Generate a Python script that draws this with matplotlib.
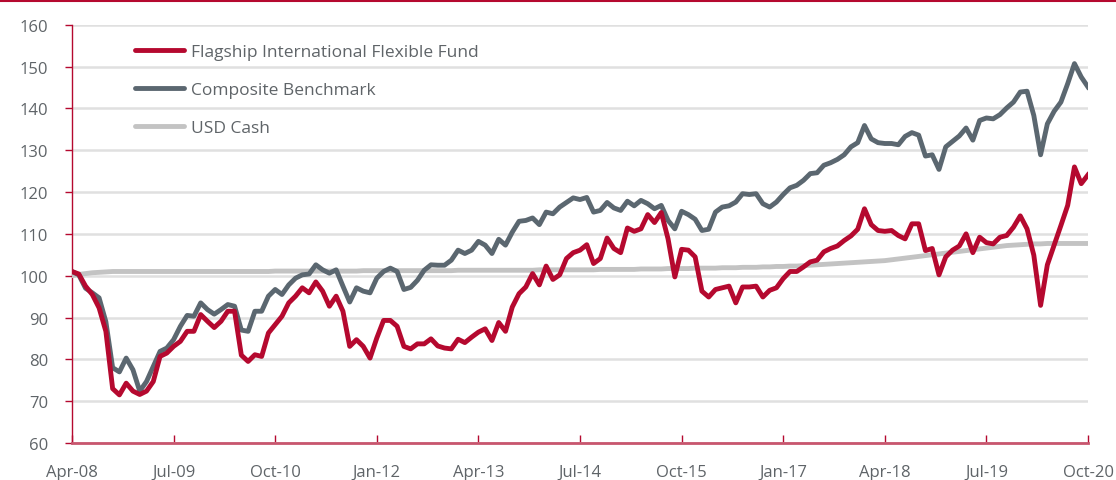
import matplotlib
matplotlib.use("Agg")
import matplotlib.pyplot as plt
from matplotlib.lines import Line2D

plt.rcParams['font.family'] = ['Open Sans', 'DejaVu Sans']

tick_labels = ["Apr-08", "Jul-09", "Oct-10", "Jan-12", "Apr-13", "Jul-14",
               "Oct-15", "Jan-17", "Apr-18", "Jul-19", "Oct-20"]

fund = [101.0, 100.4, 97.5, 95.5, 92.3, 86.7, 73.0, 71.5, 74.3, 72.4,
        71.6, 72.4, 74.7, 80.7, 81.5, 83.1, 84.3, 86.7, 86.7, 90.7,
        89.1, 87.6, 89.1, 91.5, 91.5, 81.0, 79.5, 81.1, 80.7, 86.3,
        88.3, 90.3, 93.5, 95.1, 97.1, 95.9, 98.5, 96.3, 92.7, 95.1,
        91.5, 83.1, 84.7, 83.1, 80.3, 85.1, 89.3, 89.3, 87.9, 83.1,
        82.5, 83.7, 83.7, 84.9, 83.2, 82.7, 82.5, 84.8, 84.0, 85.3,
        86.5, 87.3, 84.5, 88.8, 86.7, 92.5, 95.7, 97.3, 100.5, 97.8,
        102.3, 99.1, 100.2, 104.1, 105.5, 106.1, 107.4, 102.9, 104.1, 109.0,
        106.5, 105.5, 111.4, 110.6, 111.2, 114.6, 112.7, 115.1, 108.8, 99.7,
        106.3, 106.1, 104.5, 96.3, 94.9, 96.7, 97.1, 97.5, 93.5, 97.3,
        97.3, 97.5, 94.9, 96.5, 97.1, 99.3, 101.0, 101.0, 102.1, 103.3,
        103.7, 105.7, 106.5, 107.1, 108.4, 109.5, 111.1, 116.0, 112.2, 110.8,
        110.6, 110.8, 109.6, 108.8, 112.4, 112.4, 106.0, 106.5, 100.2, 104.5,
        106.1, 107.1, 110.0, 105.5, 109.2, 107.9, 107.6, 109.2, 109.6, 111.6,
        114.3, 111.2, 104.9, 92.9, 102.6, 107.3, 112.0, 116.8, 126.0, 122.0,
        124.1]

bench = [101.0, 100.2, 97.0, 95.9, 94.7, 89.0, 78.0, 77.0, 80.3, 77.5,
         72.4, 74.7, 78.3, 81.9, 82.7, 84.7, 87.9, 90.5, 90.3, 93.5,
         91.9, 90.8, 91.9, 93.1, 92.7, 87.0, 86.7, 91.5, 91.5, 95.1,
         96.7, 95.5, 97.8, 99.4, 100.2, 100.4, 102.6, 101.4, 100.6, 101.4,
         97.5, 93.7, 97.1, 96.3, 95.9, 99.4, 101.0, 101.8, 101.0, 96.7,
         97.2, 98.9, 101.3, 102.6, 102.5, 102.5, 103.7, 106.1, 105.3, 106.1,
         108.2, 107.3, 105.3, 108.7, 107.3, 110.4, 113.0, 113.2, 113.8, 112.2,
         115.2, 114.8, 116.4, 117.5, 118.6, 118.2, 118.7, 115.2, 115.6, 117.5,
         116.2, 115.6, 117.8, 116.7, 118.0, 117.2, 116.0, 116.8, 113.2, 111.2,
         115.4, 114.6, 113.5, 110.8, 111.1, 115.2, 116.4, 116.7, 117.6, 119.6,
         119.4, 119.6, 117.2, 116.4, 117.6, 119.4, 121.0, 121.6, 122.8, 124.4,
         124.6, 126.4, 127.0, 127.8, 128.9, 130.8, 131.8, 135.9, 132.7, 131.8,
         131.6, 131.6, 131.3, 133.3, 134.2, 133.6, 128.6, 128.9, 125.4, 130.8,
         132.1, 133.4, 135.3, 132.4, 137.1, 137.7, 137.5, 138.5, 140.1, 141.5,
         143.9, 144.1, 138.3, 128.9, 136.3, 139.3, 141.5, 145.9, 150.7, 147.5,
         145.1]

cash = [100.0, 100.3, 100.5, 100.7, 100.8, 100.9, 101.0, 101.0, 101.0, 101.0,
        101.0, 101.0, 101.0, 101.0, 101.0, 101.0, 101.0, 101.0, 101.0, 101.0,
        101.0, 101.0, 101.0, 101.0, 101.0, 101.0, 101.0, 101.0, 101.0, 101.0,
        101.1, 101.1, 101.1, 101.1, 101.1, 101.1, 101.1, 101.1, 101.1, 101.1,
        101.1, 101.1, 101.1, 101.2, 101.2, 101.2, 101.2, 101.2, 101.2, 101.2,
        101.2, 101.2, 101.2, 101.2, 101.2, 101.2, 101.2, 101.3, 101.3, 101.3,
        101.3, 101.3, 101.3, 101.3, 101.3, 101.3, 101.3, 101.3, 101.3, 101.4,
        101.4, 101.4, 101.4, 101.4, 101.4, 101.4, 101.4, 101.4, 101.5, 101.5,
        101.5, 101.5, 101.5, 101.5, 101.6, 101.6, 101.6, 101.6, 101.7, 101.7,
        101.7, 101.7, 101.8, 101.8, 101.8, 101.8, 101.9, 101.9, 101.9, 102.0,
        102.0, 102.0, 102.1, 102.1, 102.2, 102.2, 102.3, 102.3, 102.4, 102.5,
        102.6, 102.7, 102.8, 102.9, 103.0, 103.1, 103.2, 103.3, 103.4, 103.5,
        103.6, 103.8, 104.0, 104.2, 104.4, 104.6, 104.8, 105.0, 105.2, 105.4,
        105.6, 105.8, 106.0, 106.2, 106.4, 106.6, 106.8, 107.0, 107.2, 107.3,
        107.4, 107.5, 107.6, 107.6, 107.7, 107.7, 107.7, 107.7, 107.7, 107.7,
        107.7]

RED = "#B5092F"
GRAY = "#5B6770"
CASH = "#C3C3C3"
TXT = "#5F6468"

fig = plt.figure(figsize=(11.16, 4.81), dpi=100)
ax = fig.add_axes([72/1116, 1-444/481, (1088-72)/1116, (444-25.7)/481])

x = list(range(len(fund)))
ax.plot(x, cash, color=CASH, lw=3.5, solid_capstyle='round', zorder=3)
ax.plot(x, bench, color=GRAY, lw=3.5, solid_joinstyle='round', zorder=4)
ax.plot(x, fund, color=RED, lw=3.5, solid_joinstyle='round', zorder=5)

ax.set_xlim(0, 150)
ax.set_ylim(60, 160)
ax.set_yticks(range(60, 161, 10))
ax.set_xticks(range(0, 151, 15))
ax.set_xticklabels(tick_labels)

ax.grid(axis='y', color="#E0E0E0", lw=1.8, zorder=0)
ax.set_axisbelow(True)

for s in ['top', 'right']:
    ax.spines[s].set_visible(False)
ax.spines['left'].set_color(RED)
ax.spines['left'].set_linewidth(1.0)
ax.spines['bottom'].set_color("#C8566E")
ax.spines['bottom'].set_linewidth(2.0)

ax.tick_params(axis='y', direction='out', length=5, width=1, color=RED,
               labelsize=12, labelcolor=TXT, pad=12)
ax.tick_params(axis='x', direction='in', length=6, width=1, color=RED,
               labelsize=12, labelcolor=TXT, pad=15)

handles = [Line2D([], [], color=RED, lw=3.5, solid_capstyle='round'),
           Line2D([], [], color=GRAY, lw=3.5, solid_capstyle='round'),
           Line2D([], [], color=CASH, lw=3.5, solid_capstyle='round')]
labels = ["Flagship International Flexible Fund", "Composite Benchmark", "USD Cash"]
leg = fig.legend(handles, labels, loc='upper left',
                 bbox_to_anchor=(135/1116, 1-44.5/481),
                 frameon=False, fontsize=12.5, handlelength=2.85,
                 handletextpad=0.35, labelspacing=1.27,
                 borderpad=0, borderaxespad=0)
for t in leg.get_texts():
    t.set_color(TXT)

fig.add_artist(Line2D([0, 1], [1-1.5/481, 1-1.5/481], color=RED, lw=1.5,
                      transform=fig.transFigure))

fig.savefig("out.png", dpi=100)
